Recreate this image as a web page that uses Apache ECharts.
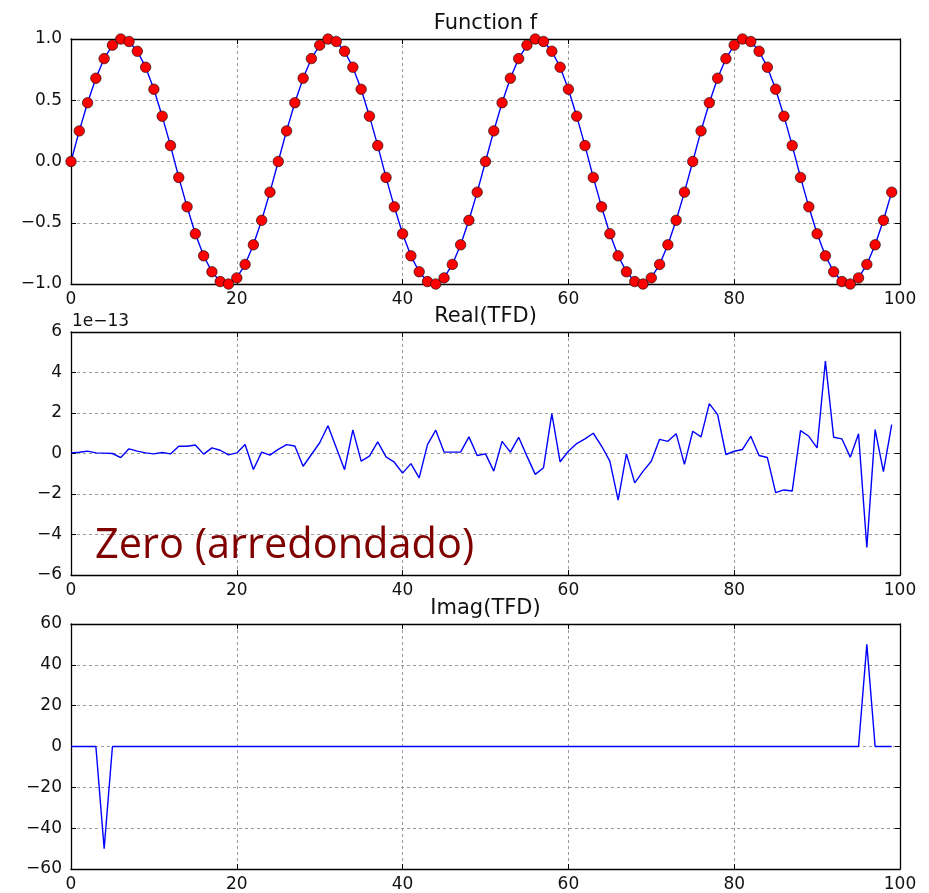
<!DOCTYPE html>
<html>
<head>
<meta charset="utf-8">
<script src="https://cdn.jsdelivr.net/npm/echarts@6/dist/echarts.min.js"></script>
<style>
html,body{margin:0;padding:0;background:#fff;}
#chart{width:929px;height:893px;}
</style>
</head>
<body>
<div id="chart"></div>
<script>
// ---- data ----
const xTicks = [0, 20, 40, 60, 80, 100];
const fTicks = [-1.0, -0.5, 0.0, 0.5, 1.0];
const realTicks = [-6, -4, -2, 0, 2, 4, 6];
const imagTicks = [-60, -40, -20, 0, 20, 40, 60];

const titles = ['Function f', 'Real(TFD)', 'Imag(TFD)'];
const realOffsetLabel = '1e\u221213';
const annotation = 'Zero (arredondado)';

// Function f samples
const fValues = [
  0.00, 0.25, 0.48, 0.68, 0.84, 0.95, 1.00, 0.98, 0.90, 0.77, 0.59, 0.37, 0.13,
  -0.13, -0.37, -0.59, -0.77, -0.90, -0.98, -1.00, -0.95, -0.84, -0.68, -0.48, -0.25,
  0.00, 0.25, 0.48, 0.68, 0.84, 0.95, 1.00, 0.98, 0.90, 0.77, 0.59, 0.37, 0.13,
  -0.13, -0.37, -0.59, -0.77, -0.90, -0.98, -1.00, -0.95, -0.84, -0.68, -0.48, -0.25,
  0.00, 0.25, 0.48, 0.68, 0.84, 0.95, 1.00, 0.98, 0.90, 0.77, 0.59, 0.37, 0.13,
  -0.13, -0.37, -0.59, -0.77, -0.90, -0.98, -1.00, -0.95, -0.84, -0.68, -0.48, -0.25,
  0.00, 0.25, 0.48, 0.68, 0.84, 0.95, 1.00, 0.98, 0.90, 0.77, 0.59, 0.37, 0.13,
  -0.13, -0.37, -0.59, -0.77, -0.90, -0.98, -1.00, -0.95, -0.84, -0.68, -0.48, -0.25
];

// Real(TFD), in units of 1e-13
const realValues = [
  0.03, 0.06, 0.12, 0.03, 0.02, 0.00, -0.20, 0.23, 0.12, 0.03,
  -0.02, 0.05, -0.02, 0.36, 0.36, 0.42, -0.03, 0.28, 0.16, -0.07,
  0.03, 0.44, -0.79, 0.07, -0.08, 0.20, 0.44, 0.37, -0.63, -0.05,
  0.53, 1.37, 0.28, -0.80, 1.17, -0.38, -0.13, 0.57, -0.17, -0.43,
  -0.97, -0.50, -1.20, 0.44, 1.15, 0.07, 0.07, 0.07, 0.82, -0.10,
  -0.02, -0.87, 0.60, 0.07, 0.80, -0.13, -1.03, -0.70, 1.97, -0.41,
  0.11, 0.49, 0.72, 1.00, 0.37, -0.38, -2.30, -0.02, -1.45, -0.88,
  -0.38, 0.70, 0.60, 0.98, -0.54, 1.10, 0.82, 2.46, 1.92, -0.05,
  0.11, 0.20, 0.85, -0.10, -0.20, -1.93, -1.80, -1.85, 1.13, 0.85,
  0.28, 4.57, 0.80, 0.72, -0.18, 0.97, -4.64, 1.18, -0.90, 1.43
];

// Imag(TFD)
const imagValues = [
  0, 0, 0, 0, -50, 0, 0, 0, 0, 0,
  0, 0, 0, 0, 0, 0, 0, 0, 0, 0,
  0, 0, 0, 0, 0, 0, 0, 0, 0, 0,
  0, 0, 0, 0, 0, 0, 0, 0, 0, 0,
  0, 0, 0, 0, 0, 0, 0, 0, 0, 0,
  0, 0, 0, 0, 0, 0, 0, 0, 0, 0,
  0, 0, 0, 0, 0, 0, 0, 0, 0, 0,
  0, 0, 0, 0, 0, 0, 0, 0, 0, 0,
  0, 0, 0, 0, 0, 0, 0, 0, 0, 0,
  0, 0, 0, 0, 0, 0, 50, 0, 0, 0
];

// ---- layout / style ----
const FONT = 'DejaVu Sans';
const TICK_FS = 17;
const TITLE_FS = 21;
const ANNOT_FS = 41.5;
const grids = [
  {left: 71, top: 39, width: 829, height: 245},
  {left: 71, top: 332, width: 829, height: 243},
  {left: 71, top: 624, width: 829, height: 245}
];
const minus = s => String(s).replace('-', '\u2212');
const fmts = [
  v => minus(v.toFixed(1)),
  v => minus(Math.round(v)),
  v => minus(Math.round(v))
];
const yTickSets = [fTicks, realTicks, imagTicks];

const xAxes = [], yAxes = [];
const frame = {show: true, onZero: false, lineStyle: {color: '#000', width: 1.3}};
const grid = {show: true, lineStyle: {color: '#9a9a9a', width: 1, type: [3, 3]}};
const tick = {show: true, inside: true, length: 5, lineStyle: {color: '#000', width: 1}};

grids.forEach((g, gi) => {
  const xmin = xTicks[0], xmax = xTicks[xTicks.length - 1], xint = xTicks[1] - xTicks[0];
  const yt = yTickSets[gi];
  const ymin = yt[0], ymax = yt[yt.length - 1], yint = yt[1] - yt[0];
  xAxes.push({
    type: 'value', gridIndex: gi, position: 'bottom', min: xmin, max: xmax, interval: xint,
    axisLine: frame, axisTick: tick, splitLine: grid,
    axisLabel: {color: '#111', fontFamily: FONT, fontSize: TICK_FS, margin: 7, formatter: v => minus(v)}
  });
  xAxes.push({
    type: 'value', gridIndex: gi, position: 'top', min: xmin, max: xmax, interval: xint,
    axisLine: frame, axisTick: tick, splitLine: {show: false}, axisLabel: {show: false}
  });
  yAxes.push({
    type: 'value', gridIndex: gi, position: 'left', min: ymin, max: ymax, interval: yint,
    axisLine: frame, axisTick: tick, splitLine: grid,
    axisLabel: {color: '#111', fontFamily: FONT, fontSize: TICK_FS, margin: 9, formatter: fmts[gi]}
  });
  yAxes.push({
    type: 'value', gridIndex: gi, position: 'right', min: ymin, max: ymax, interval: yint,
    axisLine: frame, axisTick: tick, splitLine: {show: false}, axisLabel: {show: false}
  });
});

const toXY = arr => arr.map((v, i) => [i, v]);

const series = [
  {
    type: 'line', xAxisIndex: 0, yAxisIndex: 0, data: toXY(fValues),
    symbol: 'circle', symbolSize: 10.5, showSymbol: true, clip: true,
    lineStyle: {color: '#0000ff', width: 1.4},
    itemStyle: {color: '#ff0000', borderColor: '#000', borderWidth: 0.6}
  },
  {
    type: 'line', xAxisIndex: 2, yAxisIndex: 2, data: toXY(realValues),
    showSymbol: false, symbol: 'none', clip: true,
    lineStyle: {color: '#0000ff', width: 1.4}
  },
  {
    type: 'line', xAxisIndex: 4, yAxisIndex: 4, data: toXY(imagValues),
    showSymbol: false, symbol: 'none', clip: true,
    lineStyle: {color: '#0000ff', width: 1.4}
  }
];

const titleBaselines = [30, 323, 615];
const graphic = titles.map((t, i) => ({
  type: 'text', z: 100,
  style: {
    text: t, x: grids[i].left + grids[i].width / 2, y: titleBaselines[i] - 0.3 * TITLE_FS,
    align: 'center', verticalAlign: 'middle',
    fontFamily: FONT, fontSize: TITLE_FS, fill: '#111'
  }
}));
graphic.push({
  type: 'text', z: 100,
  style: {
    text: realOffsetLabel, x: 72, y: 327 - 0.3 * TICK_FS,
    align: 'left', verticalAlign: 'middle',
    fontFamily: FONT, fontSize: TICK_FS, fill: '#111'
  }
});
graphic.push({
  type: 'text', z: 100,
  style: {
    text: annotation, x: 95, y: 559 - 0.3 * ANNOT_FS,
    align: 'left', verticalAlign: 'middle',
    fontFamily: 'Open Sans', fontSize: ANNOT_FS, fill: '#800000'
  }
});

const chart = echarts.init(document.getElementById('chart'), null, {renderer: 'canvas'});
chart.setOption({
  animation: false,
  backgroundColor: '#fff',
  grid: grids.map(g => Object.assign({containLabel: false}, g)),
  xAxis: xAxes,
  yAxis: yAxes,
  series: series,
  graphic: graphic
});
</script>
</body>
</html>
